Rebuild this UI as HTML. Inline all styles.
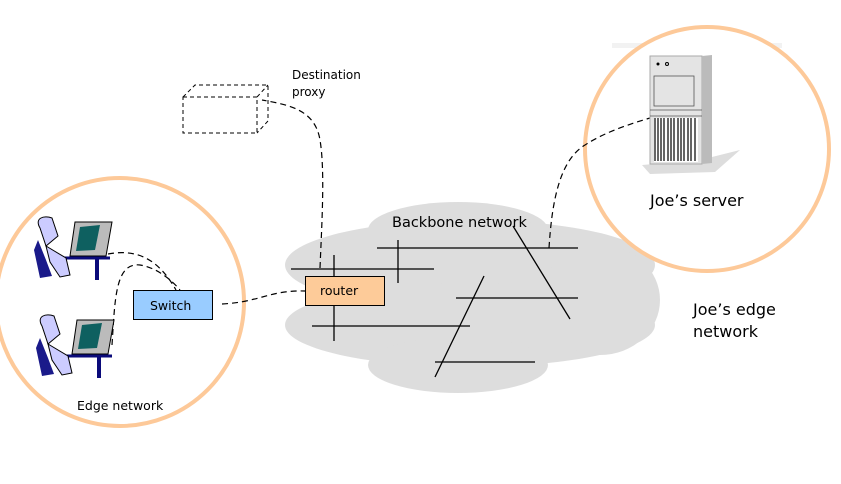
<!DOCTYPE html>
<html><head><style>
body{margin:0;background:#fff;}
svg text{font-family:"DejaVu Sans","Liberation Sans",sans-serif;}
</style></head><body>
<svg width="841" height="479" viewBox="0 0 841 479" xmlns="http://www.w3.org/2000/svg">
<rect width="841" height="479" fill="#fff"/>
<g fill="#dddddd">
<ellipse cx="458" cy="230" rx="90" ry="28"/>
<ellipse cx="470" cy="265" rx="185" ry="45"/>
<ellipse cx="470" cy="325" rx="185" ry="42"/>
<ellipse cx="458" cy="365" rx="90" ry="28"/>
<ellipse cx="600" cy="300" rx="60" ry="55"/>
</g>
<rect x="612" y="43" width="170" height="5" fill="#f2f2f2"/>
<circle cx="120" cy="302" r="124" fill="none" stroke="#fdc999" stroke-width="4"/>
<circle cx="707" cy="149" r="122" fill="#fff" stroke="#fdc999" stroke-width="4"/>
<g stroke="#000" stroke-width="1.3">
<line x1="377" y1="248" x2="578" y2="248"/>
<line x1="398" y1="240" x2="398" y2="283"/>
<line x1="291" y1="269" x2="434" y2="269"/>
<line x1="334" y1="255" x2="334" y2="341"/>
<line x1="312" y1="326" x2="470" y2="326"/>
<line x1="456" y1="298" x2="578" y2="298"/>
<line x1="513" y1="226" x2="570" y2="319"/>
<line x1="484" y1="276" x2="435" y2="377"/>
<line x1="435" y1="362" x2="535" y2="362"/>
</g>
<g fill="none" stroke="#000" stroke-width="1.2" stroke-dasharray="6,4">
<path d="M320 268 C322 220 325 170 320 140 C315 110 290 105 262 100"/>
<path d="M549 248 C552 200 560 160 585 145 C605 132 630 124 650 118"/>
<path d="M222 304 C260 302 270 290 305 291"/>
<path d="M108 254 C140 248 160 262 176 290"/>
<path d="M112 345 C115 300 115 262 140 265 C160 268 176 285 180 290"/>
</g>
<g fill="none" stroke="#000" stroke-width="1" stroke-dasharray="4,3">
<rect x="183" y="97" width="74" height="36"/>
<path d="M183 97 L195 85 L268 85 L268 121 L257 133 M257 97 L268 85"/>
</g>
<text x="292" y="79" font-size="12">Destination</text>
<text x="292" y="96" font-size="12">proxy</text>
<rect x="305.5" y="276.5" width="79" height="29" fill="#fdcb99" stroke="#000"/>
<text x="320" y="295" font-size="12.5">router</text>
<rect x="133.5" y="290.5" width="79" height="29" fill="#99ccff" stroke="#000"/>
<text x="150" y="310" font-size="12.5">Switch</text>
<text x="392" y="227" font-size="14.5">Backbone network</text>
<text x="77" y="410" font-size="12.5">Edge network</text>
<text x="650" y="206" font-size="16">Joe’s server</text>
<text x="693" y="315" font-size="16">Joe’s edge</text>
<text x="693" y="337" font-size="16">network</text>
<g>
<path d="M642 165 L700 160 L740 150 L715 172 L650 174 Z" fill="#ddd"/>
<rect x="650" y="56" width="52" height="108" fill="#e4e4e4" stroke="#aaa"/>
<path d="M702 56 L712 55 L712 163 L702 164 Z" fill="#bbb"/>
<g stroke="#555" stroke-width="0.8" fill="none">
<rect x="654" y="76" width="40" height="30"/>
<line x1="650" y1="110" x2="702" y2="110"/>
<line x1="650" y1="116" x2="702" y2="116"/>
</g>
<rect x="654" y="118" width="44" height="44" fill="#fff"/>
<g stroke="#000" stroke-width="1.2">
<line x1="655" y1="118" x2="655" y2="161"/><line x1="658" y1="118" x2="658" y2="161"/>
<line x1="661" y1="118" x2="661" y2="161"/><line x1="664" y1="118" x2="664" y2="161"/>
<line x1="668" y1="118" x2="668" y2="161"/><line x1="671" y1="118" x2="671" y2="161"/>
<line x1="674" y1="118" x2="674" y2="161"/><line x1="678" y1="118" x2="678" y2="161"/>
<line x1="681" y1="118" x2="681" y2="161"/><line x1="684" y1="118" x2="684" y2="161"/>
<line x1="688" y1="118" x2="688" y2="161"/><line x1="691" y1="118" x2="691" y2="161"/>
<line x1="695" y1="118" x2="695" y2="161"/>
</g>
<circle cx="658" cy="64" r="1.5" fill="#000"/><circle cx="667" cy="64" r="1.5" fill="none" stroke="#000"/>
</g>
<g id="p1">
<path d="M75 222 L112 222 L106 256 L70 256 Z" fill="#bbb" stroke="#000"/>
<path d="M80 227 L100 225 L95 250 L76 251 Z" fill="#0e6060"/>
<path d="M60 258 L110 258" stroke="#0a0a7a" stroke-width="3"/>
<rect x="95" y="258" width="4" height="22" fill="#0a0a7a"/>
<path d="M40 228 C34 218 44 215 52 218 L58 236 L46 246 Z" fill="#ccccff" stroke="#000"/>
<path d="M38 240 L46 260 L52 276 L40 278 L34 250 Z" fill="#1a1a8a"/>
<path d="M46 246 L66 258 L70 275 L60 277 L50 262 Z" fill="#ccccff" stroke="#000"/>
</g>
<use href="#p1" transform="translate(2,98)"/>
</svg>
</body></html>
